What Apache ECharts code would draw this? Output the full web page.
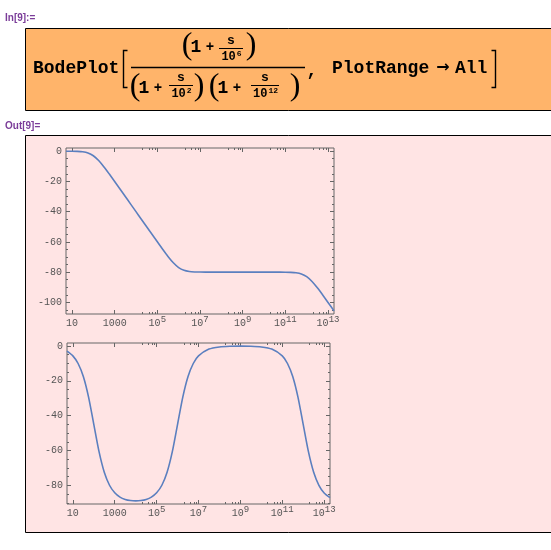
<!DOCTYPE html>
<html>
<head>
<meta charset="utf-8">
<script src="https://cdn.jsdelivr.net/npm/echarts@6/dist/echarts.min.js"></script>
<style>
  html, body { margin: 0; padding: 0; background: #fff; }
  #main { width: 551px; height: 550px; }
</style>
</head>
<body>
<div id="main"></div>
<script>
// frequency as log10(w)
var logFreq = [0.72, 1, 1.25, 1.5, 1.75, 2, 2.25, 2.5, 2.75, 3, 3.25, 3.5, 3.75, 4, 4.25, 4.5, 4.75, 5, 5.25, 5.5,
  5.75, 6, 6.25, 6.5, 6.75, 7, 7.5, 8, 8.5, 9, 9.5, 10, 10.5, 11, 11.25, 11.5, 11.75, 12, 12.25, 12.5, 12.75, 13, 13.28];
// magnitude (dB)
var magnitude = [-0.01, -0.04, -0.14, -0.41, -1.19, -3.01, -6.19, -10.41, -15.14, -20.04, -25.01, -30.0, -35.0, -40.0, -45.0, -50.0,
  -54.99, -59.96, -64.87, -69.59, -73.81, -76.99, -78.81, -79.59, -79.87, -79.96, -80.0, -80.0, -80.0, -80.0, -80.0, -80.0,
  -80.0, -80.04, -80.14, -80.41, -81.19, -83.01, -86.19, -90.41, -95.14, -100.04, -105.61];
// phase (degrees)
var phase = [-3.0, -5.71, -10.08, -17.55, -29.36, -44.99, -60.63, -72.43, -79.89, -84.23, -86.68, -88.01, -88.66, -88.86, -88.66,
  -88.01, -86.68, -84.23, -79.89, -72.43, -60.63, -44.99, -29.36, -17.55, -10.08, -5.71, -1.81, -0.58, -0.2, -0.11, -0.2, -0.58,
  -1.81, -5.71, -10.08, -17.55, -29.36, -45.0, -60.64, -72.45, -79.92, -84.29, -87.0];

var xLabelExp = [1, 3, 5, 7, 9, 11, 13];
var magTicks = [-100, -80, -60, -40, -20, 0];
var phaseTicks = [-80, -60, -40, -20, 0];

var xMin = 0.72, xMax = 13.28;
var magMin = -107.7, magMax = 2.1;
var phMin = -90.64, phMax = 1.67;

var frameColor = '#666';
var labelColor = '#555';
var monoFont = '"Liberation Mono", "DejaVu Sans Mono", monospace';
var curveColor = '#5b7fbf';

// minor log ticks: 2,4,6,8 x 10^k on even decades
var xMinor = [];
[4, 6, 8, 10, 12].forEach(function (k) {
  [2, 4, 6, 8].forEach(function (m) { xMinor.push(k + Math.log10(m)); });
});
function minorY(lo, hi) {
  var out = [];
  for (var v = -105; v <= 0; v += 5) {
    if (v % 20 !== 0 && v >= lo && v <= hi) out.push(v);
  }
  return out;
}

function xFmt(v) {
  if (v === 1) return '10';
  if (v === 3) return '1000';
  return '10{sup|' + v + '}';
}

function makeX(gridIndex) {
  var base = {
    type: 'value', gridIndex: gridIndex, min: xMin, max: xMax,
    axisLine: { show: false, onZero: false },
    splitLine: { show: false }
  };
  return [
    Object.assign({}, base, {
      position: 'bottom',
      axisTick: { inside: true, length: 4, lineStyle: { color: frameColor }, customValues: xLabelExp },
      axisLabel: {
        customValues: xLabelExp, formatter: xFmt, margin: 1, lineHeight: 16,
        color: labelColor, fontFamily: monoFont, fontSize: 10,
        rich: { sup: { fontSize: 9, lineHeight: 9, verticalAlign: 'top', fontFamily: monoFont, color: labelColor } }
      }
    }),
    Object.assign({}, base, {
      position: 'bottom',
      axisTick: { inside: true, length: 2, lineStyle: { color: frameColor }, customValues: xMinor },
      axisLabel: { show: false }
    }),
    Object.assign({}, base, {
      position: 'top',
      axisTick: { inside: true, length: 4, lineStyle: { color: frameColor }, customValues: xLabelExp },
      axisLabel: { show: false }
    }),
    Object.assign({}, base, {
      position: 'top',
      axisTick: { inside: true, length: 2, lineStyle: { color: frameColor }, customValues: xMinor },
      axisLabel: { show: false }
    })
  ];
}

function makeY(gridIndex, lo, hi, ticks) {
  var base = {
    type: 'value', gridIndex: gridIndex, min: lo, max: hi,
    axisLine: { show: false, onZero: false },
    splitLine: { show: false }
  };
  var minor = minorY(lo, hi);
  return [
    Object.assign({}, base, {
      position: 'left',
      axisTick: { inside: true, length: 4, lineStyle: { color: frameColor }, customValues: ticks },
      axisLabel: { customValues: ticks, margin: 4, color: labelColor, fontFamily: monoFont, fontSize: 10 }
    }),
    Object.assign({}, base, {
      position: 'left',
      axisTick: { inside: true, length: 2, lineStyle: { color: frameColor }, customValues: minor },
      axisLabel: { show: false }
    }),
    Object.assign({}, base, {
      position: 'right',
      axisTick: { inside: true, length: 4, lineStyle: { color: frameColor }, customValues: ticks },
      axisLabel: { show: false }
    }),
    Object.assign({}, base, {
      position: 'right',
      axisTick: { inside: true, length: 2, lineStyle: { color: frameColor }, customValues: minor },
      axisLabel: { show: false }
    })
  ];
}

// notebook text pieces
var boldMono = function (size) { return 'bold ' + size + 'px ' + monoFont; };
function txt(x, y, s, size, align, extra) {
  return Object.assign({
    type: 'text', x: x, y: y, z: 5,
    style: { text: s, font: boldMono(size), fill: '#000', align: align || 'center', verticalAlign: 'middle' }
  }, extra || {});
}
function ln(points, w) {
  return { type: 'polyline', z: 5, shape: { points: points }, style: { stroke: '#000', lineWidth: w || 1, fill: null } };
}
function bigParen(x, y, s) {
  return {
    type: 'text', x: x, y: y, z: 5,
    style: { text: s, font: '32px "Liberation Serif", serif', fill: '#000', align: 'center', verticalAlign: 'middle' }
  };
}
function smallFrac(cx, cy, exp, halfW) {
  // s over 10^exp
  var expW = String(exp).length * 4.8;
  return [
    txt(cx, cy - 7, 's', 13),
    ln([[cx - halfW, cy + 0.5], [cx + halfW, cy + 0.5]], 1),
    txt(cx - expW / 2, cy + 9, '10', 12),
    txt(cx + 7.2 - expW / 2 + 1, cy + 6, String(exp), 8, 'left')
  ];
}

var graphics = [
  { type: 'rect', z: -10, shape: { x: 25.5, y: 28.5, width: 540, height: 82 }, style: { fill: '#ffb46a', stroke: '#000', lineWidth: 1 } },
  { type: 'rect', z: -10, shape: { x: 25.5, y: 135.5, width: 540, height: 397 }, style: { fill: '#ffe4e4', stroke: '#000', lineWidth: 1 } },
  { type: 'text', x: 5, y: 18, z: 5, style: { text: 'In[9]:=', font: 'bold 10px "Liberation Sans", sans-serif', fill: '#7b3d99', align: 'left', verticalAlign: 'middle' } },
  { type: 'text', x: 5, y: 126, z: 5, style: { text: 'Out[9]=', font: 'bold 10px "Liberation Sans", sans-serif', fill: '#7b3d99', align: 'left', verticalAlign: 'middle' } },
  txt(33, 68, 'BodePlot', 18, 'left'),
  ln([[127.5, 50.5], [123.5, 50.5], [123.5, 87.5], [127.5, 87.5]], 1.4),
  ln([[491.5, 50.5], [495.5, 50.5], [495.5, 87.5], [491.5, 87.5]], 1.4),
  ln([[131, 67.5], [305, 67.5]], 1.4),
  // numerator
  bigParen(187, 46, '('), txt(196, 47, '1', 18), txt(210, 47, '+', 14),
  bigParen(251, 46, ')'),
  // denominator
  bigParen(135, 87, '('), txt(144, 88, '1', 18), txt(158, 88, '+', 14),
  bigParen(199, 87, ')'),
  bigParen(214, 87, '('), txt(223, 88, '1', 18), txt(237, 88, '+', 14),
  bigParen(295, 87, ')'),
  txt(312, 71, ',', 18),
  txt(332, 68, 'PlotRange', 18, 'left'),
  { type: 'text', x: 443, y: 68, z: 5, style: { text: '\u2192', font: 'bold 16px "DejaVu Sans", sans-serif', fill: '#000', align: 'center', verticalAlign: 'middle' } },
  txt(455, 68, 'All', 18, 'left')
].concat(smallFrac(231, 48, 6, 12), smallFrac(181, 85, 2, 12), smallFrac(265, 85, 12, 14));

var option = {
  animation: false,
  backgroundColor: '#fff',
  graphic: graphics,
  grid: [
    { left: 66, top: 148, width: 268, height: 166, show: true, borderColor: frameColor, borderWidth: 1, backgroundColor: 'transparent', outerBoundsMode: 'none' },
    { left: 67, top: 343, width: 263, height: 161, show: true, borderColor: frameColor, borderWidth: 1, backgroundColor: 'transparent', outerBoundsMode: 'none' }
  ],
  xAxis: makeX(0).concat(makeX(1)),
  yAxis: makeY(0, magMin, magMax, magTicks).concat(makeY(1, phMin, phMax, phaseTicks)),
  series: [
    {
      type: 'line', xAxisIndex: 0, yAxisIndex: 0, showSymbol: false, smooth: 0.25,
      lineStyle: { color: curveColor, width: 1.6, join: 'round' }, silent: true,
      data: logFreq.map(function (x, i) { return [x, magnitude[i]]; })
    },
    {
      type: 'line', xAxisIndex: 4, yAxisIndex: 4, showSymbol: false, smooth: 0.25,
      lineStyle: { color: curveColor, width: 1.6, join: 'round' }, silent: true,
      data: logFreq.map(function (x, i) { return [x, phase[i]]; })
    }
  ]
};

var chart = echarts.init(document.getElementById('main'));
chart.setOption(option);
window.addEventListener('resize', function () { chart.resize(); });
</script>
</body>
</html>
